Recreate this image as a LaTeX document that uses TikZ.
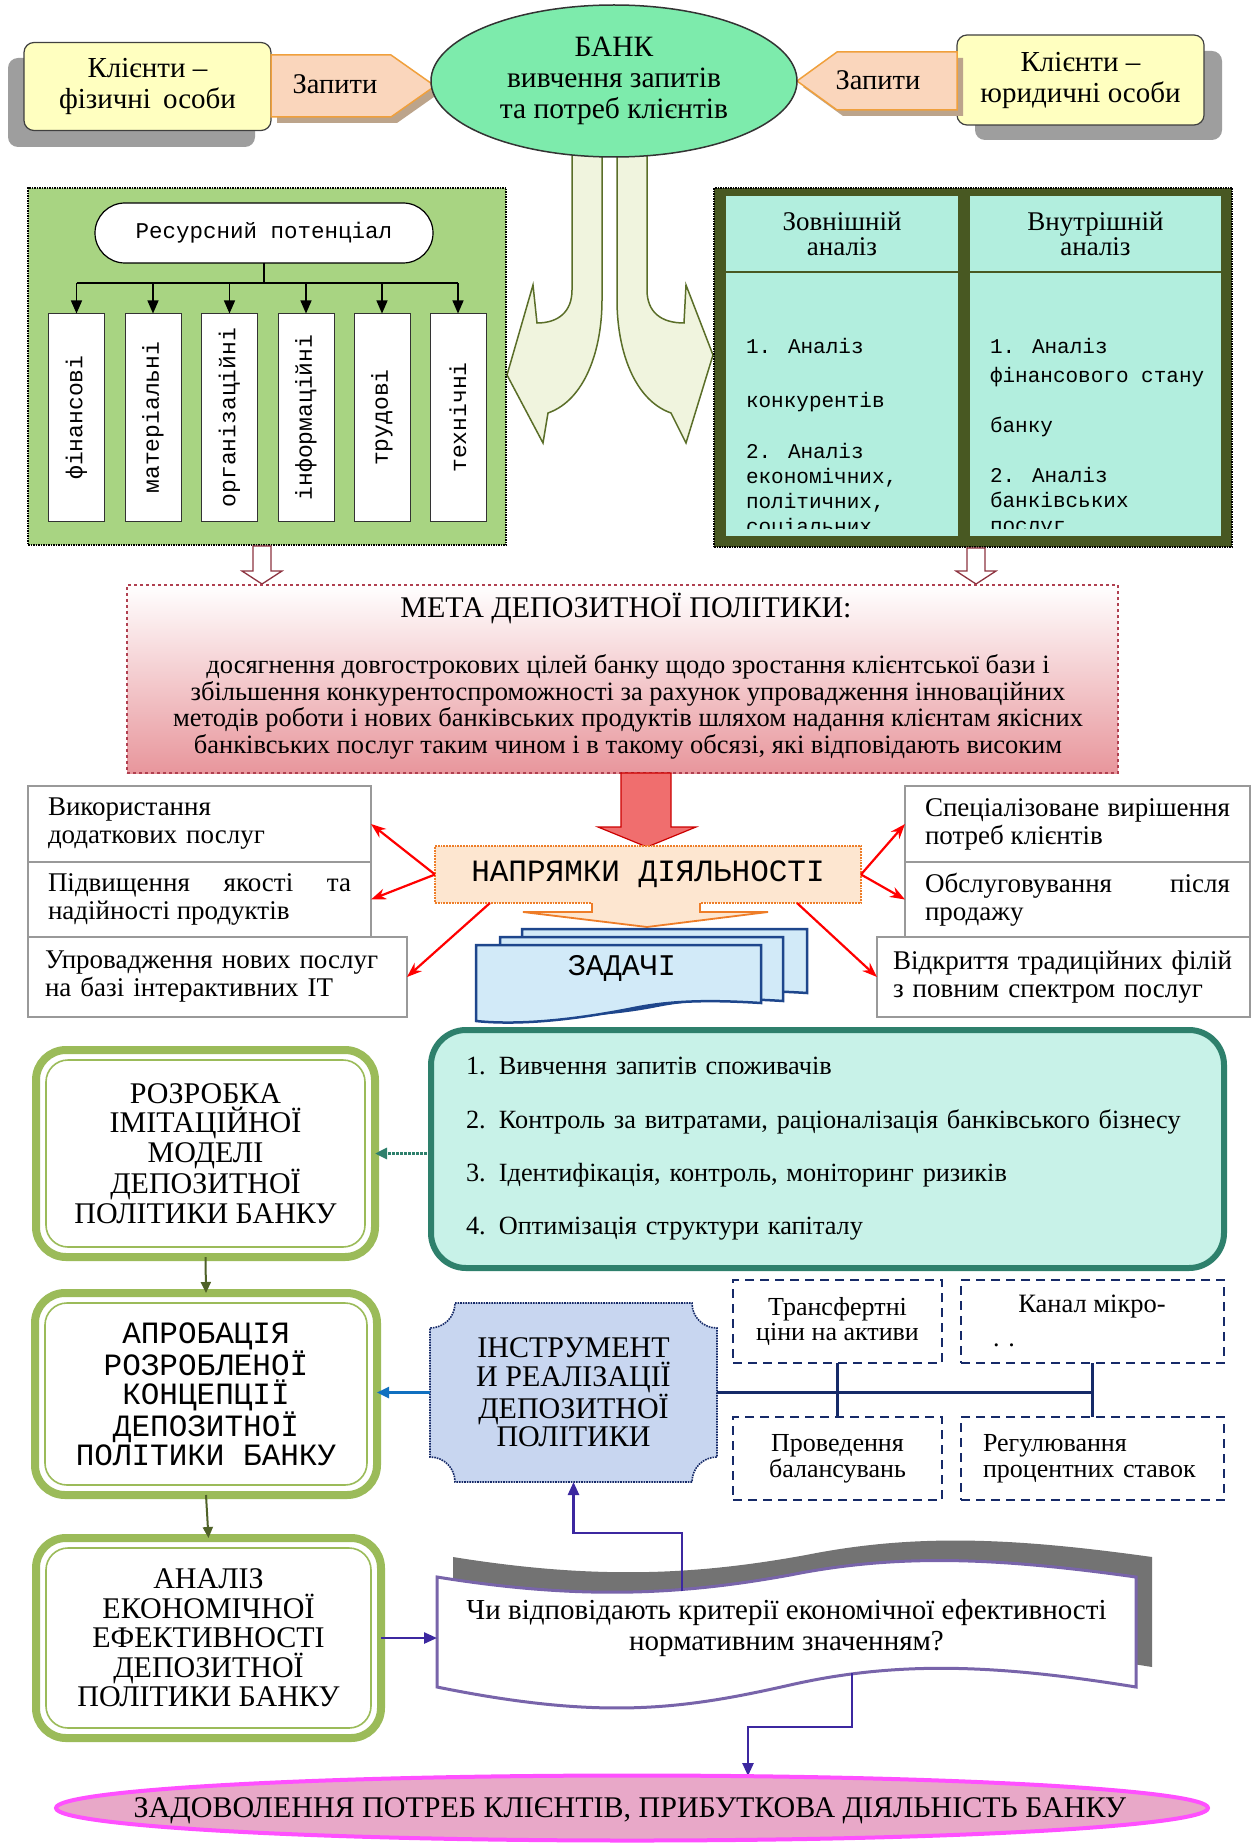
\documentclass[tikz,border=0pt]{standalone}
\usepackage{fontspec}
\usepackage{graphicx}
\setmainfont{Liberation Serif}
\newfontfamily\monof{Liberation Mono}
\usetikzlibrary{shapes.geometric,shapes.misc,arrows.meta,calc}
\newcommand\fz[2]{\fontsize{#1}{#2}\selectfont}
\hyphenpenalty=10000 \exhyphenpenalty=10000
\definecolor{cyel}{RGB}{255,255,192}
\definecolor{peach}{RGB}{250,214,188}
\definecolor{orng}{RGB}{240,160,60}
\definecolor{bankg}{RGB}{125,235,172}
\definecolor{resg}{RGB}{168,212,130}
\definecolor{arrf}{RGB}{240,244,222}
\definecolor{oliv}{RGB}{90,110,40}
\definecolor{anaf}{RGB}{72,88,34}
\definecolor{anac}{RGB}{178,238,222}
\definecolor{metap}{RGB}{232,150,156}
\definecolor{metab}{RGB}{176,64,80}
\definecolor{reda}{RGB}{240,110,110}
\definecolor{napf}{RGB}{253,230,208}
\definecolor{napb}{RGB}{238,125,40}
\definecolor{docf}{RGB}{210,234,248}
\definecolor{docb}{RGB}{30,70,140}
\definecolor{taskf}{RGB}{200,242,232}
\definecolor{taskb}{RGB}{46,128,108}
\definecolor{lgr}{RGB}{155,187,89}
\definecolor{dgr}{RGB}{79,98,40}
\definecolor{instf}{RGB}{200,214,240}
\definecolor{navy}{RGB}{22,42,104}
\definecolor{purp}{RGB}{60,40,160}
\definecolor{scrb}{RGB}{120,100,170}
\definecolor{finf}{RGB}{232,168,200}
\definecolor{finb}{RGB}{255,80,255}
\definecolor{arrblue}{RGB}{16,112,192}
\begin{document}
\begin{tikzpicture}[x=1pt,y=-1pt,
  every node/.style={inner sep=0pt,outer sep=0pt},
  clientbox/.style={draw=black!75,line width=1.2pt,fill=cyel,rounded corners=10pt,align=center,minimum width=247pt,font=\fz{29}{31}},
  zapshape/.style={fill=peach,draw=orng,line width=1.5pt},
  zapshadow/.style={fill=brown!70!black!55},
  boxshadow/.style={fill=black!38},
  curvarrow/.style={fill=arrf,draw=oliv,line width=1.5pt},
  vlabel/.style={draw=black!80,fill=white,line width=1pt,minimum width=56pt,minimum height=208pt,font=\monof\fz{23}{23}},
  treearrow/.style={draw=black,line width=1.3pt,-{Triangle[length=13pt,width=11pt]}},
  cell/.style={fill=anac,draw=anaf,line width=2pt},
  hollowarrow/.style={fill=white,draw=metab!80!black,line width=1.3pt},
  sidebox/.style={draw=gray!80,line width=1.2pt,fill=white,inner xsep=20pt,minimum height=76pt,font=\fz{27}{28},align=left},
  redarrow/.style={draw=red,line width=2.2pt,-{Stealth[length=15pt,width=11pt]}},
  docshape/.style={fill=docf,draw=docb,line width=2.5pt},
  gbox/.style={draw=lgr,line width=8pt,fill=white,rounded corners=30pt,align=center},
  ginner/.style={draw=lgr,line width=1.6pt,rounded corners=22pt},
  garrow/.style={draw=dgr,line width=2pt,-{Triangle[length=11pt,width=10pt]}},
  dbox/.style={draw=navy,line width=2.5pt,dash pattern=on 9pt off 6pt,fill=white},
  navyline/.style={draw=navy,line width=3pt},
  parrow/.style={draw=purp,line width=2.5pt,-{Triangle[length=13pt,width=11pt]}},
]
\fill[white] (0,0) rectangle (1250,1843);
\useasboundingbox (0,0) rectangle (1250,1843);

% ---------- top row ----------
\fill[boxshadow,rounded corners=10pt] (8,58) rectangle (255,147);
\fill[boxshadow,rounded corners=10pt] (975,51) rectangle (1222,140);
\node[clientbox,minimum height=88pt] (cl1) at (147.5,86.5) {Клієнти –\\фізичні\, особи};
\node[clientbox,minimum height=90pt] (cl2) at (1080.5,80) {Клієнти –\\юридичні особи};

\fill[zapshadow] (277,61) -- (397,61) -- (441,92) -- (397,123) -- (277,123) -- cycle;
\draw[zapshape] (271,55) -- (391,55) -- (435,86) -- (391,117) -- (271,117) -- cycle;
\node[font=\fz{28.5}{31}] (zap1) at (335,84) {Запити};
\fill[zapshadow] (963,58) -- (843,58) -- (803,87) -- (843,116) -- (963,116) -- cycle;
\draw[zapshape] (957,52) -- (837,52) -- (797,81) -- (837,110) -- (957,110) -- cycle;
\node[font=\fz{28.5}{31}] (zap2) at (878,80) {Запити};

% curved arrows from the bank
\draw[curvarrow] (572,150) -- (572,290) .. controls (572,312) and (558,323) .. (537,323) -- (533,285) -- (507,375) -- (543,443) -- (548,413) .. controls (585,400) and (602,350) .. (602,300) -- (602,150) -- cycle;
\draw[curvarrow] (647,150) -- (647,290) .. controls (647,312) and (661,323) .. (684,323) -- (686,285) -- (713,355) -- (686,443) -- (671,413) .. controls (634,400) and (617,350) .. (617,300) -- (617,150) -- cycle;

\node[ellipse,draw=black!80,line width=1.5pt,fill=bankg,minimum width=366pt,minimum height=152pt,align=center,font=\fz{29.5}{31}] (bank) at (614,81) {БАНК\\вивчення запитів\\та потреб клієнтів};

% ---------- resource potential ----------
\node[draw=black,densely dotted,line width=1.5pt,fill=resg,minimum width=478pt,minimum height=357pt] (res) at (267,366.5) {};
\node[rounded rectangle,draw=black,line width=1.2pt,fill=white,minimum width=338pt,minimum height=60pt,font=\monof\fz{22.5}{25}] (rp) at (264,233) {Ресурсний потенціал};
\coordinate (tj) at (264,283);
\draw[line width=1.3pt] (rp.south) -- (tj);
\node[vlabel] (v1) at (76.5,417.5) {\rotatebox{90}{фінансові}};
\node[vlabel] (v2) at (153,417.5) {\rotatebox{90}{матеріальні}};
\node[vlabel] (v3) at (229.5,417.5) {\rotatebox{90}{організаційні}};
\node[vlabel] (v4) at (306,417.5) {\rotatebox{90}{інформаційні}};
\node[vlabel] (v5) at (382,417.5) {\rotatebox{90}{трудові}};
\node[vlabel] (v6) at (458,417.5) {\rotatebox{90}{технічні}};
\draw[line width=1.3pt] (tj -| v1.north) -- (tj -| v6.north);
\foreach \v in {v1,v2,v3,v4,v5,v6}{\draw[treearrow] (tj -| \v.north) -- (\v.north);}

% ---------- analysis ----------
\node[fill=anaf,draw=black,densely dotted,line width=1.5pt,minimum width=518pt,minimum height=359pt] (ana) at (973,367.5) {};
\node[cell,minimum width=234pt,minimum height=77pt,align=center,font=\fz{27}{25}] (exth) at (842,233.5) {Зовнішній\\аналіз};
\node[cell,minimum width=253pt,minimum height=77pt,align=center,font=\fz{27}{25}] (inth) at (1095.5,233.5) {Внутрішній\\аналіз};
\node[cell,minimum width=234pt,minimum height=265pt] (extb) at (842,404.5) {};
\node[cell,minimum width=253pt,minimum height=265pt] (intb) at (1095.5,404.5) {};
\begin{scope}
\clip (726,273) rectangle (1221,528);
\node[anchor=north west,align=left,font=\monof\fz{21}{25}] (extt) at (746,338) {1. Аналіз\\[29pt]конкурентів\\[26pt]2. Аналіз\\економічних,\\політичних,\\соціальних};
\node[anchor=north west,align=left,font=\monof\fz{21}{25}] (intt) at (990,338) {1. Аналіз\\[4pt]фінансового стану\\[25pt]банку\\[25pt]2. Аналіз\\банківських\\послуг};
\end{scope}

% hollow arrows to the goal
\draw[hollowarrow] (253,546) -- (271,546) -- (271,571) -- (282,571) -- (262,584) -- (242,571) -- (253,571) -- cycle;
\draw[hollowarrow] (967,548) -- (985,548) -- (985,571) -- (996,571) -- (976,584) -- (956,571) -- (967,571) -- cycle;

% ---------- goal ----------
\node[draw=metab,dashed,line width=1.5pt,top color=white,bottom color=metap,minimum width=991pt,minimum height=188pt] (meta) at (622.5,679) {};
\node[font=\fz{30}{30}] (metat) at (626,608) {МЕТА ДЕПОЗИТНОЇ ПОЛІТИКИ:};
\node[align=center,font=\fz{26.5}{26.7}] (metax) at (628,707) {досягнення довгострокових цілей банку щодо зростання  клієнтської бази і\\збільшення конкурентоспроможності  за  рахунок упровадження  інноваційних\\методів  роботи і  нових  банківських  продуктів  шляхом надання  клієнтам якісних\\банківських  послуг таким чином і в такому обсязі,  які відповідають  високим};

\draw[fill=reda,draw=red!80!black,line width=1.2pt] (621,773) -- (671,773) -- (671,827) -- (696,827) -- (647,847) -- (598,827) -- (621,827) -- cycle;

% ---------- directions ----------
\node[draw=napb,line width=1.8pt,densely dotted,fill=napf,minimum width=426pt,minimum height=57pt,font=\monof\fz{31}{31}] (nap) at (648,874.5) {НАПРЯМКИ ДІЯЛЬНОСТІ};
\fill[napf] (592,900) -- (592,912) -- (523,912) -- (647,927) -- (768,912) -- (700,912) -- (700,900) -- cycle;
\draw[napb,line width=1.8pt] (592,903) -- (592,912) -- (523,912) -- (647,927) -- (768,912) -- (700,912) -- (700,903);

\draw[docshape] (522,929) -- (807,929) -- (807,993) .. controls (760,990) and (720,990) .. (680,998) .. controls (630,1008) and (570,1010) .. (522,1005) -- cycle;
\draw[docshape] (500,937) -- (783,937) -- (783,1001) .. controls (736,998) and (696,998) .. (656,1006) .. controls (606,1016) and (546,1018) .. (500,1013) -- cycle;
\draw[docshape] (476,945) -- (761,945) -- (761,1003) .. controls (714,1000) and (674,1000) .. (634,1008) .. controls (584,1018) and (524,1026) .. (476,1021) -- cycle;
\node[font=\monof\fz{30}{30}] (zad) at (622,968) {ЗАДАЧІ};

\node[sidebox,text width=303pt] (l1) at (199.5,824) {Використання\\додаткових  послуг};
\node[sidebox,text width=303pt,minimum height=75pt,align=justify] (l2) at (199.5,899.5) {Підвищення якості та надійності продуктів};
\node[sidebox,inner xsep=17pt,text width=345pt,minimum height=80pt] (l3) at (217.5,977) {Упровадження нових  послуг\\на базі інтерактивних  ІТ};
\node[sidebox,text width=305pt,align=justify] (r1) at (1077.5,824) {Спеціалізоване вирішення потреб клієнтів};
\node[sidebox,text width=305pt,minimum height=75pt,align=justify] (r2) at (1077.5,899.5) {Обслуговування після продажу};
\node[sidebox,inner xsep=16pt,text width=341pt,minimum height=80pt] (r3) at (1063.5,977) {Відкриття традиційних філій\\з повним спектром послуг};

\draw[redarrow] (nap.west) -- (l1.east);
\draw[redarrow] (nap.west) -- (l2.east);
\draw[redarrow] ($(nap.south west)+(55,0)$) -- (l3.east);
\draw[redarrow] (nap.east) -- (r1.west);
\draw[redarrow] (nap.east) -- (r2.west);
\draw[redarrow] ($(nap.south east)+(-64,0)$) -- (r3.west);

% ---------- tasks ----------
\node[draw=taskb,line width=6pt,fill=taskf,rounded corners=35pt,minimum width=793pt,minimum height=238pt,text width=723pt,align=left,font=\fz{26.3}{53.3}] (tasks) at (827.5,1149) {1. Вивчення запитів  споживачів\\2. Контроль за витратами, раціоналізація  банківського  бізнесу\\3. Ідентифікація,  контроль, моніторинг ризиків\\4. Оптимізація  структури капіталу};

% ---------- left column ----------
\node[gbox,minimum width=339pt,minimum height=207pt,font=\fz{30}{29.5}] (b1) at (205.5,1153.5) {РОЗРОБКА\\ІМІТАЦІЙНОЇ\\МОДЕЛІ\\ДЕПОЗИТНОЇ\\ПОЛІТИКИ БАНКУ};
\draw[ginner] ($(b1.south west)+(10,-10)$) rectangle ($(b1.north east)+(-10,10)$);
\node[gbox,minimum width=342pt,minimum height=202pt,font=\monof\fz{31}{29}] (b2) at (206,1394) {АПРОБАЦІЯ\\РОЗРОБЛЕНОЇ\\КОНЦЕПЦІЇ\\ДЕПОЗИТНОЇ\\ПОЛІТИКИ БАНКУ};
\draw[ginner] ($(b2.south west)+(10,-10)$) rectangle ($(b2.north east)+(-10,10)$);
\node[gbox,minimum width=345pt,minimum height=200pt,font=\fz{30}{29.5}] (b3) at (208.5,1638) {АНАЛІЗ\\ЕКОНОМІЧНОЇ\\ЕФЕКТИВНОСТІ\\ДЕПОЗИТНОЇ\\ПОЛІТИКИ БАНКУ};
\draw[ginner] ($(b3.south west)+(10,-10)$) rectangle ($(b3.north east)+(-10,10)$);
\draw[garrow] (b1.south) -- (b2.north);
\draw[garrow] (b2.south) -- (b3.north);
\draw[draw=taskb,line width=3pt,densely dotted,-{Triangle[length=12pt,width=11pt]}] (tasks.west |- b1.east) -- (b1.east);

% ---------- instruments ----------
\draw[fill=instf,draw=navy,densely dotted,line width=1.6pt] (455,1303) -- (692,1303) .. controls (692,1317) and (703,1328) .. (717,1328) -- (717,1457) .. controls (703,1457) and (692,1468) .. (692,1482) -- (455,1482) .. controls (455,1468) and (444,1457) .. (430,1457) -- (430,1328) .. controls (444,1328) and (455,1317) .. (455,1303) -- cycle;
\node[minimum width=287pt,minimum height=179pt,align=center,font=\fz{30}{28.5}] (inst) at (573.5,1392.5) {ІНСТРУМЕНТ\\И РЕАЛІЗАЦІЇ\\ДЕПОЗИТНОЇ\\ПОЛІТИКИ};
\draw[draw=arrblue,line width=2.5pt,-{Triangle[length=12pt,width=11pt]}] (inst.west) -- (inst.west -| b2.east);

\node[dbox,minimum width=209pt,minimum height=83pt,align=center,font=\fz{26}{25}] (d1) at (837.5,1321.5) {Трансфертні\\ціни на активи};
\node[dbox,minimum width=263pt,minimum height=83pt] (d2) at (1092.5,1321.5) {};
\node[font=\fz{26.5}{25}] (d2t) at (1092,1307) {Канал мікро-};
\node[font=\fz{26}{25}] (d2d) at (1004,1345) {. .};
\node[dbox,minimum width=209pt,minimum height=83pt,align=center,font=\fz{26}{26}] (d3) at (837.5,1458.5) {Проведення\\балансувань};
\node[dbox,minimum width=263pt,minimum height=83pt,inner xsep=22pt,text width=219pt,align=left,font=\fz{26}{26}] (d4) at (1092.5,1458.5) {Регулювання\\процентних  ставок};
\draw[navyline] (inst.east) -- (inst.east -| d2.south);
\draw[navyline] (d1.south) -- (d3.north);
\draw[navyline] (d2.south) -- (d4.north);

% ---------- question ----------
\fill[black!55,shift={(16,-20)}] (437,1577) .. controls (580,1600) and (680,1595) .. (790,1575) .. controls (900,1553) and (1000,1558) .. (1136,1577) -- (1136,1687) .. controls (1000,1665) and (900,1660) .. (790,1685) .. controls (680,1710) and (600,1720) .. (437,1687) -- cycle;
\draw[fill=white,draw=scrb,line width=3pt] (437,1577) .. controls (580,1600) and (680,1595) .. (790,1575) .. controls (900,1553) and (1000,1558) .. (1136,1577) -- (1136,1687) .. controls (1000,1665) and (900,1660) .. (790,1685) .. controls (680,1710) and (600,1720) .. (437,1687) -- cycle;
\node[minimum width=699pt,minimum height=110pt,align=center,font=\fz{29}{31}] (q) at (786.5,1628) {Чи відповідають критерії  економічної  ефективності\\нормативним значенням?};
\draw[parrow] (b3.east) -- (b3.east -| q.west);
\coordinate (qt) at (682,1591);
\coordinate (qm) at (682,1533);
\draw[parrow] (qt) -- (qm) -| (inst.south);
\coordinate (qb) at (852,1673);
\coordinate (qn) at (852,1727);
\coordinate (fe) at (748,1776);
\draw[parrow] (qb) -- (qn) -| (fe);

% ---------- final ----------
\node[ellipse,draw=finb,line width=4pt,fill=finf,minimum width=1152pt,minimum height=65pt] (fin) at (632,1808) {};
\node[font=\fz{30}{30}] (fint) at (630,1811) {ЗАДОВОЛЕННЯ ПОТРЕБ КЛІЄНТІВ, ПРИБУТКОВА ДІЯЛЬНІСТЬ БАНКУ};
\end{tikzpicture}
\end{document}
